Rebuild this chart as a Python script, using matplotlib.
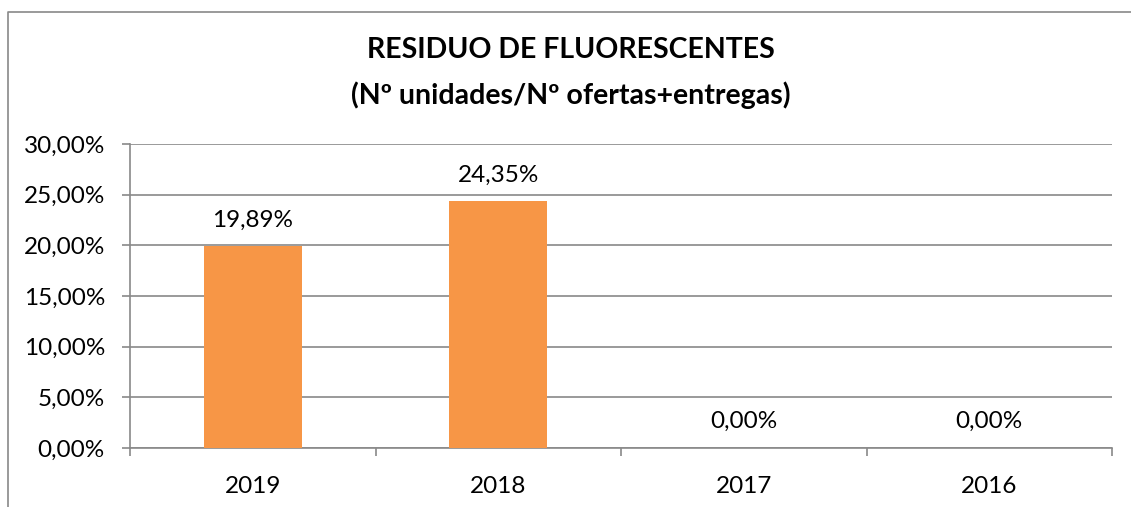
import matplotlib.pyplot as plt
from matplotlib.lines import Line2D
from matplotlib.ticker import FuncFormatter

# data
years = ["2019", "2018", "2017", "2016"]
values = [19.89, 24.35, 0.00, 0.00]
y_ticks = [0, 5, 10, 15, 20, 25, 30]

plt.rcParams["font.family"] = ["Lato", "DejaVu Sans"]

W, H = 1131, 507
fig = plt.figure(figsize=(W / 100, H / 100), dpi=100)
ax = fig.add_axes([130 / W, 1 - 448 / H, (1112 - 130) / W, (448 - 144) / H])

grey = "#898989"
x = range(len(years))
ax.bar(x, values, width=0.40, color="#F79646", zorder=3)

for xi, v in zip(x, values):
    ax.annotate(f"{v:.2f}%".replace(".", ","), (xi, v), xytext=(0, 19),
                textcoords="offset points", ha="center", va="center", fontsize=17.5)

ax.set_xlim(-0.5, len(years) - 0.5)
ax.set_ylim(0, 30)
ax.set_yticks(y_ticks)
ax.yaxis.set_major_formatter(FuncFormatter(lambda v, p: f"{v:.2f}%".replace(".", ",")))
ax.grid(axis="y", color=grey, linewidth=1.2, zorder=0)

# category boundaries as ticks, labels at centres
ax.set_xticks([i - 0.5 for i in range(len(years) + 1)])
ax.set_xticklabels([])
ax.set_xticks(list(x), minor=True)
ax.set_xticklabels(years, minor=True)
ax.tick_params(axis="x", which="major", length=6, color=grey, width=1.2)
ax.tick_params(axis="x", which="minor", length=0, pad=20, labelsize=17.5)
ax.tick_params(axis="y", length=6, color=grey, width=1.2, labelsize=17.5, pad=12)

for s in ["top", "right"]:
    ax.spines[s].set_visible(False)
ax.spines["left"].set_color(grey)
ax.spines["bottom"].set_color(grey)
ax.spines["left"].set_linewidth(1.2)
ax.spines["bottom"].set_linewidth(1.2)

fig.text(571 / W, 1 - 50 / H, "RESIDUO DE FLUORESCENTES",
         ha="center", va="center", fontsize=20.5, fontweight="bold")
fig.text(571 / W, 1 - 95 / H, "(Nº unidades/Nº ofertas+entregas)",
         ha="center", va="center", fontsize=20.5, fontweight="bold")

# outer chart frame (left and top edges)
fig.add_artist(Line2D([8 / W, 8 / W, 1.0], [0.0, 1 - 12 / H, 1 - 12 / H],
                      transform=fig.transFigure, color=grey, linewidth=1.2))

fig.savefig("out.png", dpi=100)
